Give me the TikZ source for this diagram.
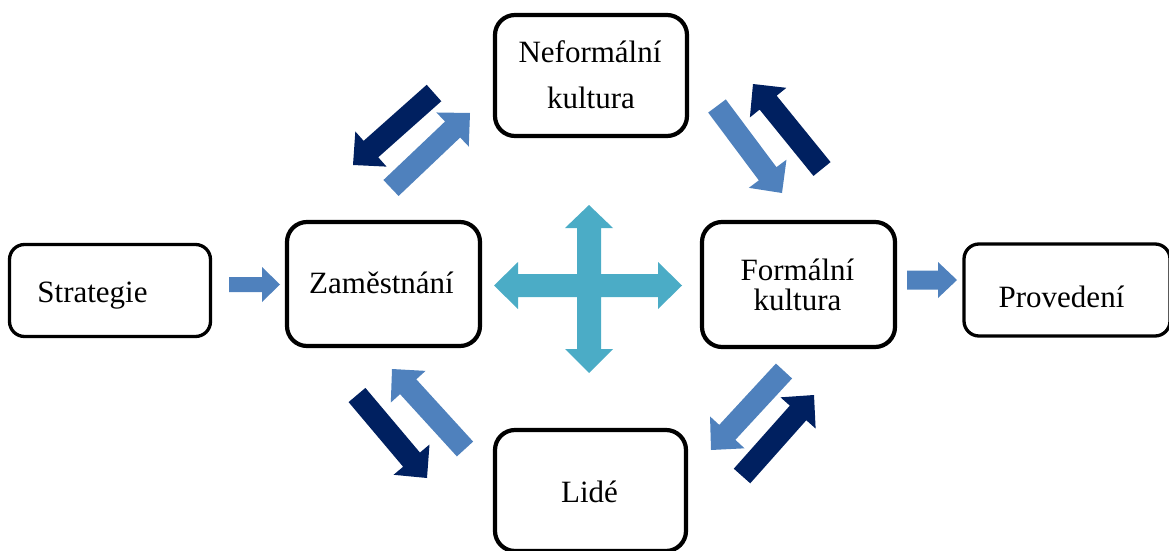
\documentclass[tikz,border=0pt]{standalone}
\usepackage{fontspec}
\setmainfont{Liberation Serif}
\usetikzlibrary{calc}

\definecolor{navy}{RGB}{0,32,96}
\definecolor{steel}{RGB}{79,129,189}
\definecolor{aqua}{RGB}{75,172,198}

% Filled block arrow: #1 colour, #2 tail centre, #3 tip,
% #4 shaft half-width, #5 head half-width, #6 head length
\newcommand\blockarrow[6]{%
  \coordinate (headbase) at ($(#3)!#6!(#2)$);
  \fill[#1] ($(#2)!#4!90:(#3)$)
     -- ($(headbase)!#4!-90:(#2)$)
     -- ($(headbase)!#5!-90:(#2)$)
     -- (#3)
     -- ($(headbase)!#5!90:(#2)$)
     -- ($(headbase)!#4!90:(#2)$)
     -- ($(#2)!#4!-90:(#3)$) -- cycle;}

\begin{document}
\begin{tikzpicture}[x=1pt,y=-1pt,
  bigbox/.style={draw=black, line width=4.2pt, rounded corners=20pt,
    inner sep=0pt, minimum width=193pt, minimum height=124pt},
  smallbox/.style={draw=black, line width=3.3pt, rounded corners=15pt,
    inner sep=0pt, minimum height=92pt},
  txt/.style={inner sep=0pt, anchor=base, font=\fontsize{31pt}{36pt}\selectfont}]
\useasboundingbox (0,0) rectangle (1169,551);
\clip (0,0) rectangle (1169,551);

% boxes
\node[smallbox, minimum width=201pt] (strat) at (110,290.5) {};
\node[bigbox] (zam) at (383.5,284) {};
\node[bigbox, minimum width=192pt, minimum height=121pt] (neform) at (591,75.5) {};
\node[bigbox, minimum height=125pt] (form) at (798.5,284.5) {};
\node[bigbox, minimum width=191pt, minimum height=121pt] (lide) at (590.5,490.5) {};
\node[smallbox, minimum width=206pt] (prov) at (1067,290) {};

% texts
\node[txt] (strat-t) at (92.5,302) {Strategie};
\node[txt] (zam-t) at (381.5,293) {Zaměstnání};
\node[txt] (neform-t1) at (590,63) {Neformální};
\node[txt] (neform-t2) at (591,108) {kultura};
\node[txt] (form-t1) at (797.5,280) {Formální};
\node[txt] (form-t2) at (797.5,310) {kultura};
\node[txt] (prov-t) at (1061.5,307) {Provedení};
\node[txt] (lide-t) at (589.5,502) {Lidé};

% straight arrows into and out of the main chain
\coordinate (sa-tail) at (229,284.5);
\coordinate (sa-tip) at (280,284.5);
\blockarrow{steel}{sa-tail}{sa-tip}{7.5pt}{17.5pt}{18pt}
\coordinate (pa-tail) at (907,280);
\coordinate (pa-tip) at (957,280);
\blockarrow{steel}{pa-tail}{pa-tip}{9.5pt}{18pt}{19pt}

% four-way arrow in the centre
\fill[aqua] (494,285.5) -- (518,262) -- (518,274) -- (577,274) -- (577,228)
  -- (565,228) -- (589,205) -- (613,228) -- (601,228) -- (601,274)
  -- (658,274) -- (658,262) -- (682,285.5) -- (658,309) -- (658,297)
  -- (601,297) -- (601,349) -- (613,349) -- (589,373) -- (565,349)
  -- (577,349) -- (577,297) -- (518,297) -- (518,309) -- cycle;

% diagonal exchange arrows
\coordinate (ul-d1) at (434,93);  \coordinate (ul-d2) at (353,165);
\coordinate (ul-l1) at (391,188); \coordinate (ul-l2) at (470,113);
\coordinate (ur-l1) at (717,106); \coordinate (ur-l2) at (782,193);
\coordinate (ur-d1) at (822,169); \coordinate (ur-d2) at (753,84);
\coordinate (ll-d1) at (357,395); \coordinate (ll-d2) at (427,478);
\coordinate (ll-l1) at (465,449); \coordinate (ll-l2) at (392,369);
\coordinate (lr-l1) at (784,371); \coordinate (lr-l2) at (711,450);
\coordinate (lr-d1) at (742,476); \coordinate (lr-d2) at (814,395);

\blockarrow{navy}{ul-d1}{ul-d2}{11pt}{23.5pt}{24pt}
\blockarrow{steel}{ul-l1}{ul-l2}{11pt}{23.5pt}{24pt}
\blockarrow{steel}{ur-l1}{ur-l2}{11pt}{23.5pt}{24pt}
\blockarrow{navy}{ur-d1}{ur-d2}{11pt}{23.5pt}{24pt}
\blockarrow{navy}{ll-d1}{ll-d2}{11pt}{23.5pt}{24pt}
\blockarrow{steel}{ll-l1}{ll-l2}{11pt}{23.5pt}{24pt}
\blockarrow{steel}{lr-l1}{lr-l2}{11pt}{23.5pt}{24pt}
\blockarrow{navy}{lr-d1}{lr-d2}{11pt}{23.5pt}{24pt}
\end{tikzpicture}
\end{document}
